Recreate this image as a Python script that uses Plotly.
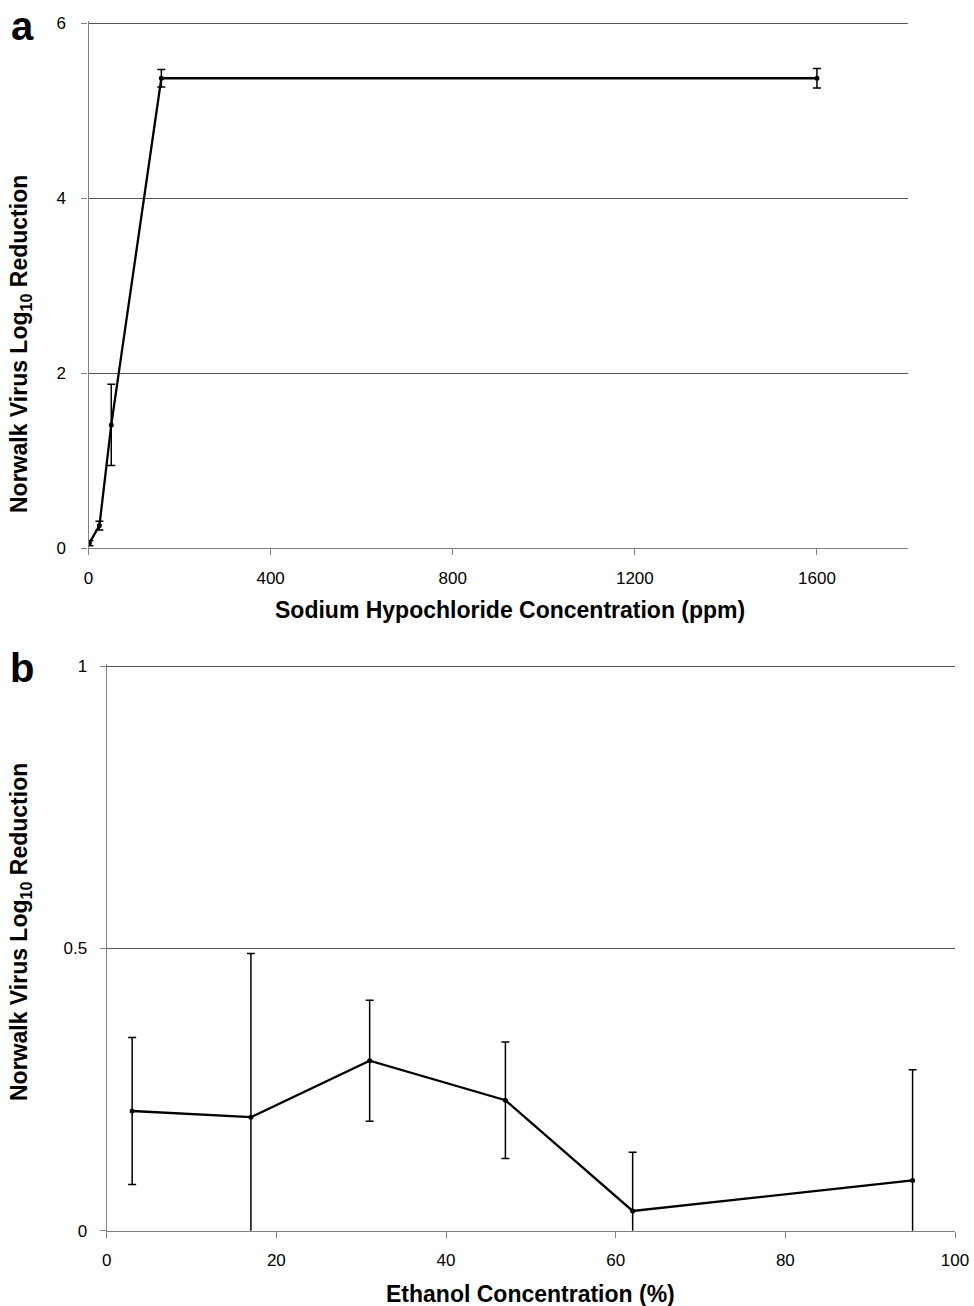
import plotly.graph_objects as go

# Panel a: sodium hypochlorite
naocl_ppm = [2, 24, 50, 160, 1600]
naocl_logred = [0.06, 0.26, 1.41, 5.37, 5.37]
naocl_err = [0.03, 0.05, 0.465, 0.10, 0.11]

# Panel b: ethanol
etoh_pct = [3, 17, 31, 47, 62, 95]
etoh_logred = [0.212, 0.201, 0.301, 0.231, 0.035, 0.089]
etoh_err = [0.13, 0.29, 0.107, 0.103, 0.104, 0.196]

W, H = 974, 1306
FONT = "Liberation Sans, Arial, sans-serif"

fig = go.Figure()

line_style = dict(color="black", width=2.3)
marker_style = dict(color="black", size=5)

fig.add_trace(go.Scatter(
    x=naocl_ppm, y=naocl_logred, mode="lines+markers",
    line=line_style, marker=marker_style,
    error_y=dict(type="data", array=naocl_err, color="black", thickness=1.5, width=4),
    xaxis="x", yaxis="y", showlegend=False,
))
fig.add_trace(go.Scatter(
    x=etoh_pct, y=etoh_logred, mode="lines+markers",
    line=line_style, marker=marker_style,
    error_y=dict(type="data", array=etoh_err, color="black", thickness=1.5, width=4),
    xaxis="x2", yaxis="y2", showlegend=False,
))


def px_x(p):
    return p / W


def px_y(p):
    return 1 - p / H


axis_common = dict(
    showline=True, linecolor="#808080", linewidth=1.3,
    ticks="outside", tickcolor="#808080", ticklen=6, tickwidth=1.2,
    tickfont=dict(family=FONT, size=17, color="black"),
    zeroline=False, automargin=False,
)

fig.update_layout(
    width=W, height=H,
    margin=dict(l=0, r=0, t=0, b=0, pad=0),
    paper_bgcolor="white", plot_bgcolor="white",
    xaxis=dict(domain=[px_x(88.5), px_x(908)], anchor="y", range=[0, 1800],
               tickvals=[0, 400, 800, 1200, 1600], showgrid=False,
               ticklabelstandoff=8, **axis_common),
    yaxis=dict(domain=[px_y(548.3), px_y(21)], anchor="x", range=[0, 6.024],
               tickvals=[0, 2, 4, 6], showgrid=True, gridcolor="#555555", gridwidth=1,
               ticklabelstandoff=12, **axis_common),
    xaxis2=dict(domain=[px_x(106.7), px_x(955)], anchor="y2", range=[0, 100],
                tickvals=[0, 20, 40, 60, 80, 100], showgrid=False,
                ticklabelstandoff=8, **axis_common),
    yaxis2=dict(domain=[px_y(1230.7), px_y(664)], anchor="x2", range=[0, 1.0036],
                tickvals=[0, 0.5, 1], showgrid=True, gridcolor="#555555", gridwidth=1,
                ticklabelstandoff=9, **axis_common),
)

title_font = dict(family=FONT, size=23, color="black")
ann = [
    dict(text="<b>a</b>", x=px_x(22), y=px_y(26), font=dict(family=FONT, size=40, color="black")),
    dict(text="<b>b</b>", x=px_x(22), y=px_y(668), font=dict(family=FONT, size=40, color="black")),
    dict(text="<b>Sodium Hypochloride Concentration (ppm)</b>", x=px_x(510), y=px_y(610), font=title_font),
    dict(text="<b>Ethanol Concentration (%)</b>", x=px_x(530), y=px_y(1294), font=title_font),
    dict(text="<b>Norwalk Virus Log<sub>10</sub> Reduction</b>", x=px_x(20), y=px_y(344),
         font=title_font, textangle=-90),
    dict(text="<b>Norwalk Virus Log<sub>10</sub> Reduction</b>", x=px_x(20), y=px_y(932),
         font=title_font, textangle=-90),
]
for a in ann:
    fig.add_annotation(xref="paper", yref="paper", showarrow=False,
                       xanchor="center", yanchor="middle", **a)

fig.write_html(
    "out.html",
    config={"displayModeBar": False},
    post_script="document.body.style.margin='0';document.body.style.overflow='hidden';",
)
